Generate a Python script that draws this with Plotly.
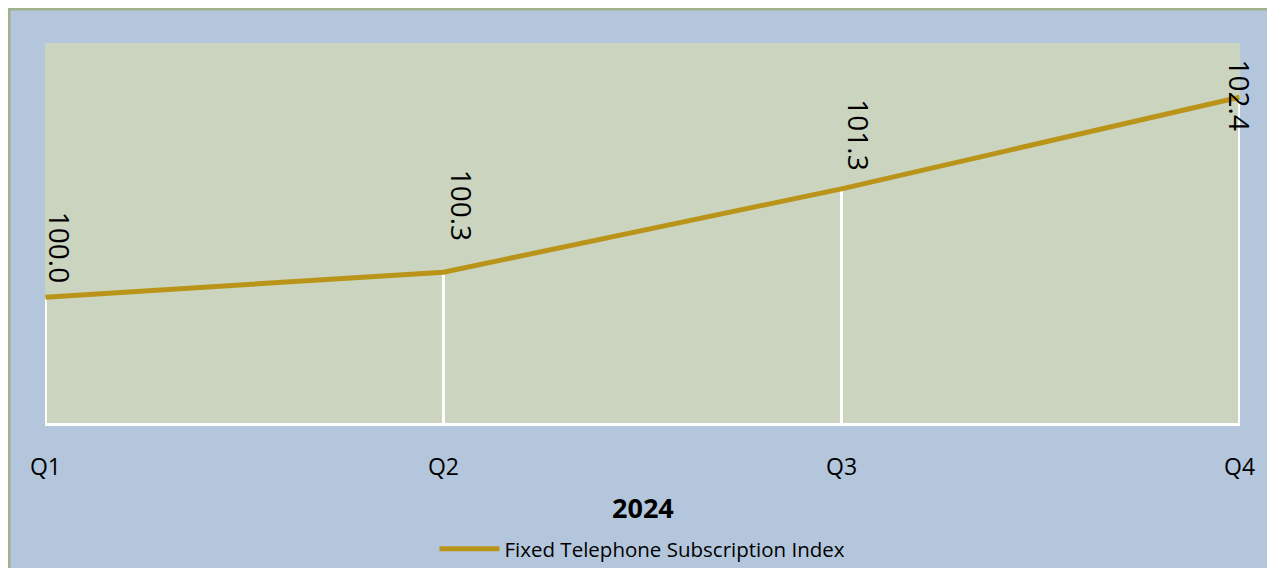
import plotly.graph_objects as go

quarters = ["Q1", "Q2", "Q3", "Q4"]
index_values = [100.0, 100.3, 101.3, 102.4]
label_texts = ["100.0", "100.3", "101.3", "102.4"]
series_name = "Fixed Telephone Subscription Index"
axis_title = "2024"

OFF = 8  # page body margin
W, H = 1275 - OFF, 568 - OFF
plot_left, plot_right, plot_top, plot_bottom = 45, 1240, 43, 423  # page pixels
L = plot_left - OFF
T = plot_top - OFF
plot_w = plot_right - plot_left
plot_h = plot_bottom - plot_top
R = W - L - plot_w
B = H - T - plot_h


def py(page_y):
    return (plot_bottom - page_y) / plot_h


def px(page_x):
    return (page_x - plot_left) / plot_w


y_min, y_max = 98.49, 103.05
xs = list(range(len(quarters)))

LINE = "#BA9418"
PLOT_BG = "#CBD4BF"
OUTER_BG = "#B4C6DC"
BORDER = "#A1B28C"

fig = go.Figure()

# white drop lines from each point to the baseline
fig.add_trace(go.Scatter(
    x=xs, y=index_values, mode="markers",
    marker=dict(size=1, color="rgba(0,0,0,0)"),
    error_y=dict(type="data", symmetric=False, array=[0] * len(xs),
                 arrayminus=[v - y_min for v in index_values],
                 color="white", thickness=3, width=0),
    showlegend=False, hoverinfo="skip", cliponaxis=False,
))

fig.add_trace(go.Scatter(
    x=xs, y=index_values, mode="lines", name=series_name,
    line=dict(color=LINE, width=5), cliponaxis=False,
))

# data labels (rotated)
label_xshift = [14, 18, 18, 0]
label_yshift = [50, 67, 54, 2]
for x, v, t, dx, dy in zip(xs, index_values, label_texts, label_xshift, label_yshift):
    fig.add_annotation(x=x, y=v, xref="x", yref="y", text=t, showarrow=False,
                       textangle=90, xanchor="center", yanchor="middle",
                       xshift=dx, yshift=dy,
                       font=dict(family="Open Sans", size=28, color="black"))

# outer frame (left and top edges)
fig.add_shape(type="line", xref="paper", yref="paper",
              x0=px(OFF + 1), x1=px(OFF + 1), y0=py(600), y1=py(OFF),
              line=dict(color=BORDER, width=3))
fig.add_shape(type="line", xref="paper", yref="paper",
              x0=px(OFF), x1=px(1300), y0=py(OFF + 1), y1=py(OFF + 1),
              line=dict(color=BORDER, width=3))

fig.add_annotation(x=0.5, y=py(507), xref="paper", yref="paper",
                   text="<b>" + axis_title + "</b>", showarrow=False,
                   xanchor="center", yanchor="middle",
                   font=dict(family="Open Sans", size=27, color="black"))

fig.update_layout(
    width=W, height=H,
    margin=dict(l=L, r=R, t=T, b=B, autoexpand=False),
    paper_bgcolor=OUTER_BG,
    plot_bgcolor=PLOT_BG,
    font=dict(family="Open Sans", color="black"),
    showlegend=True,
    legend=dict(orientation="h", x=0.5, xanchor="center",
                y=py(549), yanchor="middle",
                font=dict(size=20.5, color="black"), bgcolor="rgba(0,0,0,0)",
                itemwidth=60),
    xaxis=dict(range=[-0.001, 3.001], tickvals=xs, ticktext=quarters,
               showgrid=False, zeroline=False, showline=True, linecolor="white",
               linewidth=3, ticks="", ticklabelstandoff=21,
               tickfont=dict(size=23, color="black")),
    yaxis=dict(range=[y_min, y_max], showgrid=False, zeroline=False,
               showticklabels=False, ticks=""),
)

fig.write_html("out.html")
